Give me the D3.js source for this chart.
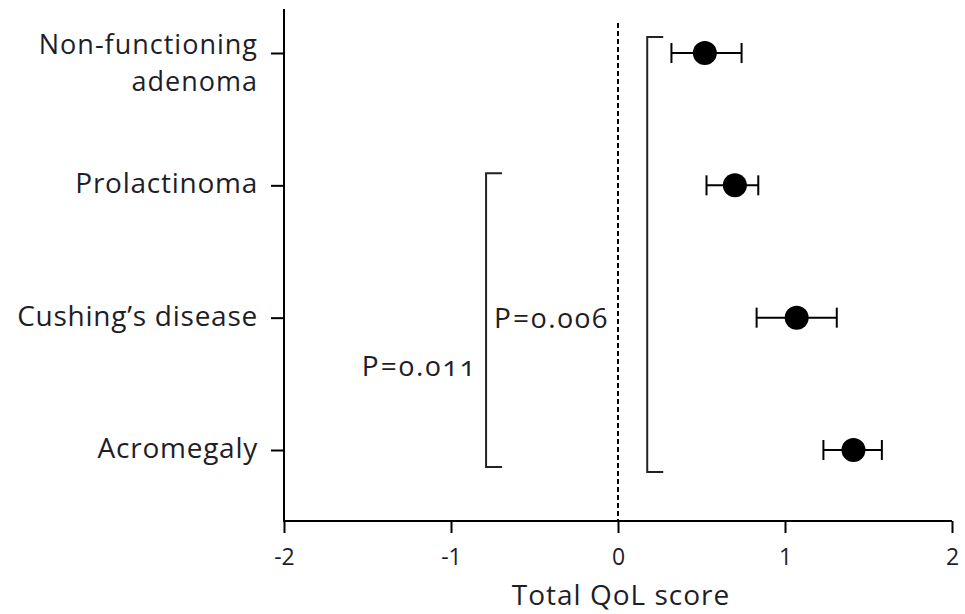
<!DOCTYPE html>
<html>
<head>
<meta charset="utf-8">
<script src="https://cdn.jsdelivr.net/npm/d3@7"></script>
<style>
  html, body { margin: 0; padding: 0; background: #fff; }
  svg { display: block; }
  text { font-family: "Open Sans", sans-serif; fill: #1e1e28; }
  .lab { font-size: 28px; letter-spacing: 0.75px; }
  .lab2 { font-size: 27px; letter-spacing: 1px; }
  .plab { font-size: 28px; letter-spacing: 2px; font-feature-settings: "onum"; }
</style>
</head>
<body>
<svg id="chart" width="965" height="614"></svg>
<script>
// ---- data ----
const categories = ["Non-functioning adenoma", "Prolactinoma", "Cushing’s disease", "Acromegaly"];
const categoryLines = [["Non-functioning", "adenoma"], ["Prolactinoma"], ["Cushing’s disease"], ["Acromegaly"]];
const means = [0.52, 0.70, 1.07, 1.41];
const lower = [0.32, 0.53, 0.83, 1.23];
const upper = [0.74, 0.84, 1.31, 1.58];
const xTicks = [-2, -1, 0, 1, 2];
const xTickLabels = ["-2", "-1", "0", "1", "2"];
const xTitle = "Total QoL score";
const bracketLabels = ["P=0.006", "P=0.011"];
const bracketX = [-0.79, 0.175];
const bracketFrom = ["Prolactinoma", "Non-functioning adenoma"];
const bracketTo = ["Acromegaly", "Acromegaly"];

// ---- layout ----
const svg = d3.select("#chart");
const x = d3.scaleLinear().domain([-2, 2]).range([284, 952]);
const y = d3.scalePoint().domain(categories).range([53, 450]);
const axisY = 521, topY = 9;

// y axis
const yAxis = d3.axisLeft(y).tickSize(13).tickFormat("");
const gy = svg.append("g").attr("transform", `translate(${x(-2)},0)`).call(yAxis);
gy.select(".domain").remove();
gy.selectAll(".tick line").attr("stroke", "#000").attr("stroke-width", 2);
svg.append("line").attr("x1", x(-2)).attr("x2", x(-2)).attr("y1", topY).attr("y2", axisY + 1)
  .attr("stroke", "#000").attr("stroke-width", 2);

// y labels
const labelRight = 258;
categories.forEach((c, i) => {
  const lines = categoryLines[i];
  if (lines.length === 1) {
    svg.append("text").attr("class", "lab").attr("x", labelRight).attr("y", y(c) + 8)
      .attr("text-anchor", "end").text(lines[0]);
  } else {
    lines.forEach((l, j) => {
      svg.append("text").attr("class", "lab2").attr("x", labelRight).attr("y", y(c) + 0.5 + j * 37)
        .attr("text-anchor", "end").text(l);
    });
  }
});

// x axis
const xAxis = d3.axisBottom(x).tickValues(xTicks).tickSize(12).tickFormat((d, i) => xTickLabels[i]);
const gx = svg.append("g").attr("transform", `translate(0,${axisY})`).call(xAxis);
gx.attr("font-family", null).attr("font-size", null);
gx.select(".domain").attr("d", `M${x(-2)},0H${x(2)}`).attr("stroke", "#000").attr("stroke-width", 2);
gx.selectAll(".tick line").attr("stroke", "#000").attr("stroke-width", 2);
gx.selectAll(".tick text").attr("y", 36).attr("dy", "0.35em").style("font-size", "23px")
  .attr("fill", "#1e1e28");

svg.append("text").attr("class", "lab").attr("x", x(0) + 3).attr("y", 605).attr("text-anchor", "middle")
  .style("letter-spacing", "1px").text(xTitle);

// zero reference line
svg.append("line").attr("x1", x(0)).attr("x2", x(0)).attr("y1", 23).attr("y2", axisY)
  .attr("stroke", "#000").attr("stroke-width", 2).attr("stroke-dasharray", "5,3");

// brackets
const bracketTopOff = [-12, -16], bracketBotOff = [17, 22], arm = 16;
bracketLabels.forEach((lab, i) => {
  const bx = x(bracketX[i]);
  const y0 = y(bracketFrom[i]) + bracketTopOff[i];
  const y1 = y(bracketTo[i]) + bracketBotOff[i];
  svg.append("path").attr("d", `M${bx + arm},${y0}H${bx}V${y1}H${bx + arm}`)
    .attr("fill", "none").attr("stroke", "#222").attr("stroke-width", 2);
});
// bracket p-value labels
svg.append("text").attr("class", "plab").attr("x", x(bracketX[0]) + 8).attr("y", 328)
  .text(bracketLabels[0]);
svg.append("text").attr("class", "plab").attr("x", x(bracketX[0]) - 9).attr("y", 376)
  .attr("text-anchor", "end").text(bracketLabels[1]);

// error bars and points
const capH = 10;
const g = svg.append("g");
categories.forEach((c, i) => {
  const cy = y(c);
  g.append("line").attr("x1", x(lower[i])).attr("x2", x(upper[i])).attr("y1", cy).attr("y2", cy)
    .attr("stroke", "#000").attr("stroke-width", 2);
  [lower[i], upper[i]].forEach(v => {
    g.append("line").attr("x1", x(v)).attr("x2", x(v)).attr("y1", cy - capH).attr("y2", cy + capH)
      .attr("stroke", "#000").attr("stroke-width", 2);
  });
  g.append("circle").attr("cx", x(means[i])).attr("cy", cy).attr("r", 12).attr("fill", "#000");
});
</script>
</body>
</html>
